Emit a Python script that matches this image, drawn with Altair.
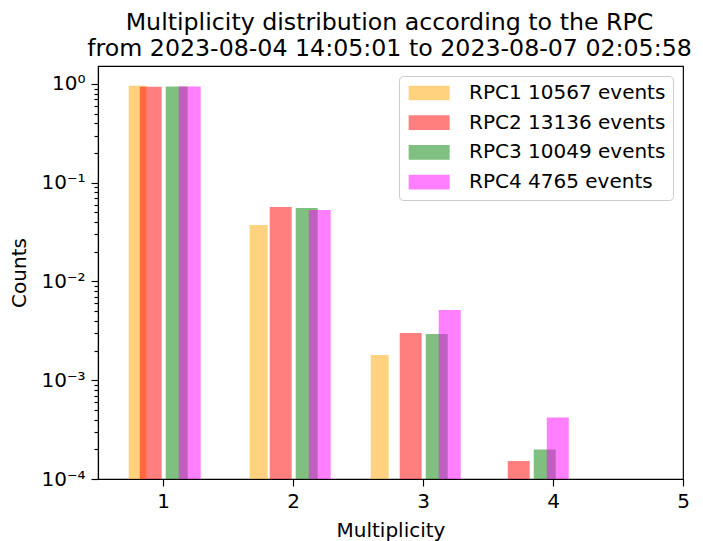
import altair as alt
import pandas as pd

# ---- data ----
series_labels = ["RPC1 10567 events", "RPC2 13136 events", "RPC3 10049 events", "RPC4 4765 events"]
series_colors = ["orange", "red", "green", "magenta"]

# histogram bin edges (multiplicity units) and normalised counts
rpc1_left = [0.736, 1.667, 2.598]
rpc1_right = [0.872, 1.805, 2.736]
rpc1_counts = [0.9609, 0.0373, 0.00180]

rpc2_left = [0.821, 1.821, 2.821, 3.652]
rpc2_right = [0.990, 1.990, 2.990, 3.821]
rpc2_counts = [0.9400, 0.0568, 0.00301, 0.000152]

rpc3_left = [1.021, 2.021, 3.021, 3.852]
rpc3_right = [1.190, 2.190, 3.190, 4.021]
rpc3_counts = [0.9414, 0.0555, 0.00294, 0.000199]

rpc4_left = [1.121, 2.121, 3.121, 3.952]
rpc4_right = [1.290, 2.290, 3.290, 4.121]
rpc4_counts = [0.9414, 0.0530, 0.00514, 0.000420]

x_ticks = [1, 2, 3, 4, 5]
y_major = [1e-4, 1e-3, 1e-2, 1e-1, 1.0]
y_floor = 1e-4
y_top = 1.521
x_range = [0.5, 5.0]

title_lines = ["Multiplicity distribution according to the RPC",
               "from 2023-08-04 14:05:01 to 2023-08-07 02:05:58"]

# ---- build table ----
rows = []
for lab, L, R, C in zip(series_labels,
                        [rpc1_left, rpc2_left, rpc3_left, rpc4_left],
                        [rpc1_right, rpc2_right, rpc3_right, rpc4_right],
                        [rpc1_counts, rpc2_counts, rpc3_counts, rpc4_counts]):
    for l, r, c in zip(L, R, C):
        rows.append({"series": lab, "x0": l, "x1": r, "val": c, "base": y_floor})
df = pd.DataFrame(rows)

y_minor = []
for e in range(-4, 1):
    for k in range(2, 10):
        v = k * 10 ** e
        if v <= y_top:
            y_minor.append(v)

FONT = "DejaVu Sans"

xscale = alt.Scale(domain=x_range, nice=False, zero=False)
yscale = alt.Scale(type="log", domain=[y_floor, y_top], nice=False)

sup_expr = ("'10' + (datum.value > 0.5 ? '⁰' : datum.value > 0.05 ? '⁻¹' : "
            "datum.value > 0.005 ? '⁻²' : datum.value > 0.0005 ? '⁻³' : '⁻⁴')")

bars = alt.Chart(df).mark_bar(opacity=0.5).encode(
    x=alt.X("x0:Q", scale=xscale,
            axis=alt.Axis(values=x_ticks, format="d", title="Multiplicity",
                          tickSize=7, labelPadding=5, titlePadding=9)),
    x2="x1:Q",
    y=alt.Y("val:Q", scale=yscale,
            axis=alt.Axis(values=y_major, labelExpr=sup_expr, title="Counts",
                          tickSize=7, labelPadding=6, titlePadding=11, orient="left")),
    y2="base:Q",
    color=alt.Color("series:N",
                    scale=alt.Scale(domain=series_labels, range=series_colors),
                    legend=alt.Legend(title=None, orient="top-right", offset=10,
                                      symbolType="M-1,-1L4.578,-1L4.578,1L-1,1Z",
                                      symbolSize=216, symbolStrokeWidth=0,
                                      symbolOpacity=0.5, labelOffset=43,
                                      labelFontSize=20, labelFont=FONT, labelLimit=400,
                                      labelColor="black",
                                      rowPadding=9.7, padding=7,
                                      fillColor="rgba(255,255,255,0.8)",
                                      strokeColor="#cccccc", cornerRadius=4)),
    order=alt.Order("series:N"),
)

minor = alt.Chart(df).mark_point(opacity=0).encode(
    x=alt.X("x0:Q", scale=xscale),
    y=alt.Y("val:Q", scale=yscale,
            axis=alt.Axis(values=y_minor, labels=False, domain=False, ticks=True,
                          tickSize=4, title=None, orient="left", grid=False)),
)

chart = alt.layer(bars, minor).resolve_axis(y="independent").properties(
    width=585, height=413,
    background="white",
    title=alt.TitleParams(text=title_lines, fontSize=23.7, font=FONT, fontWeight="normal",
                          anchor="middle", color="black", lineHeight=26, offset=5, dx=-1),
    autosize=alt.AutoSizeParams(type="none"),
    padding={"left": 90, "top": 58, "right": 12, "bottom": 62},
).configure_view(
    stroke="black", strokeWidth=1.15
).configure_axis(
    labelFont=FONT, titleFont=FONT, labelFontSize=20, titleFontSize=20,
    titleFontWeight="normal", labelColor="black", titleColor="black",
    tickColor="black", domainColor="black", tickWidth=1.15, domainWidth=1.15,
    grid=False, labelFlush=False, labelOverlap=False
)

chart.save("out.html", embed_options={"renderer": "svg", "actions": False})
